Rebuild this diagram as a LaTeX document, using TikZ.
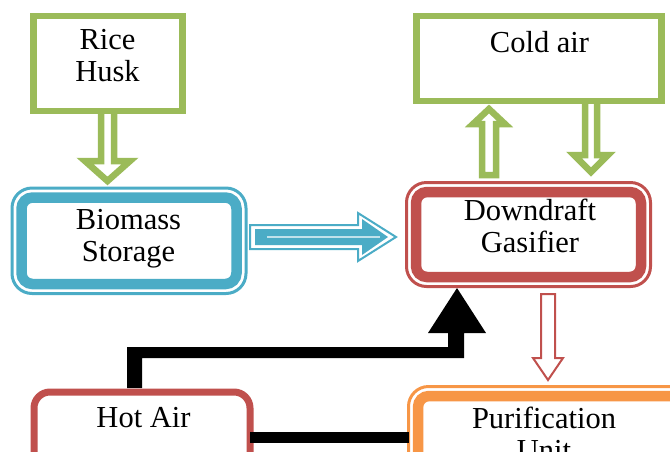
\documentclass[tikz,border=0pt]{standalone}
\usepackage{fontspec}
\setmainfont{Liberation Serif}
\definecolor{cgreen}{HTML}{9BBB59}
\definecolor{cblue}{HTML}{4BACC6}
\definecolor{cred}{HTML}{C0504D}
\definecolor{corange}{HTML}{F79646}
\begin{document}
\begin{tikzpicture}[x=1pt,y=-1pt,
 gbox/.style={draw=cgreen,line width=6.5pt,fill=white,inner sep=0pt,outer sep=0pt},
 dbox/.style={line width=10.5pt,fill=white,rounded corners=11pt,inner sep=0pt,outer sep=0pt},
 douter/.style={line width=3pt,rounded corners=20pt},
 sbox/.style={line width=7pt,fill=white,rounded corners=16pt,inner sep=0pt,outer sep=0pt,draw=cred},
 txt/.style={font=\fontsize{30.5}{32}\selectfont,align=center,inner sep=0pt},
 garrow/.style={draw=cgreen,line width=6.5pt,fill=white,miter limit=10},
]
\useasboundingbox (0,0) rectangle (670,451);
\clip (0,0) rectangle (670,451);
% arrows (behind boxes)
\draw[garrow] (101,111) -- (101,161) -- (85,161) -- (107.5,181) -- (130,161) -- (114,161) -- (114,111);
\draw[garrow] (482,175) -- (482,124) -- (473,124) -- (489,109) -- (505,124) -- (496,124) -- (496,175) -- cycle;
\draw[garrow] (585,101) -- (585,155) -- (574,155) -- (591,172) -- (608,155) -- (597,155) -- (597,101);
\draw[draw=cred,line width=2pt,fill=white] (541,294) -- (541,358) -- (533,358) -- (548,380) -- (563,358) -- (555,358) -- (555,294) -- cycle;
\draw[draw=cblue,line width=2pt,fill=white] (250,225) -- (358,225) -- (358,213) -- (396,237) -- (358,261) -- (358,249) -- (250,249) -- cycle;
\fill[cblue] (255,229) -- (362,229) -- (362,219) -- (388,237) -- (362,255) -- (362,245) -- (255,245) -- cycle;
\draw[cblue!35!white,line width=1.5pt] (267,237) -- (380,237);
\fill[black] (127,388) -- (127,347) -- (448,347) -- (448,333) -- (428,333) -- (457,288) -- (486,333) -- (464,333) -- (464,358) -- (142,358) -- (142,388) -- cycle;
% boxes
\node[gbox,minimum width=149pt,minimum height=95pt] (rice) at (108,63.5) {};
\node[gbox,minimum width=245pt,minimum height=85pt] (cold) at (539,58.5) {};
\node[dbox,draw=cblue,minimum width=215pt,minimum height=86.5pt] (bio) at (129,240.75) {};
\draw[douter,cblue] ([shift={(-9.5,-9.5)}]bio.north west) rectangle ([shift={(9.5,9.5)}]bio.south east);
\node[dbox,draw=cred,minimum width=225pt,minimum height=85pt] (gas) at (528.5,234.5) {};
\draw[douter,cred] ([shift={(-9.5,-9.5)}]gas.north west) rectangle ([shift={(9.5,9.5)}]gas.south east);
\node[dbox,draw=corange,minimum width=272pt,minimum height=134pt] (pur) at (554,463) {};
\draw[douter,corange] ([shift={(-9.5,-9.5)}]pur.north west) rectangle ([shift={(9.5,9.5)}]pur.south east);
\node[sbox,minimum width=216pt,minimum height=138pt] (hot) at (142,461) {};
\coordinate (lv) at (0,437.5);
\coordinate (purin) at (409,437.5);
\draw[line width=11pt] (hot.east |- lv) -- (purin);
% texts
\node[txt] (riceT) at (107.5,55.6) {Rice\\Husk};
\node[txt] (coldT) at (539.5,42.3) {Cold air};
\node[txt] (bioT) at (128.5,238.9) {Biomass\\Storage};
\node[txt] (gasT) at (530,225.6) {Downdraft\\Gasifier};
\node[txt] (hotT) at (143.5,417.7) {Hot Air};
\node[txt] (purT) at (544,433.6) {Purification\\Unit};
\end{tikzpicture}
\end{document}
